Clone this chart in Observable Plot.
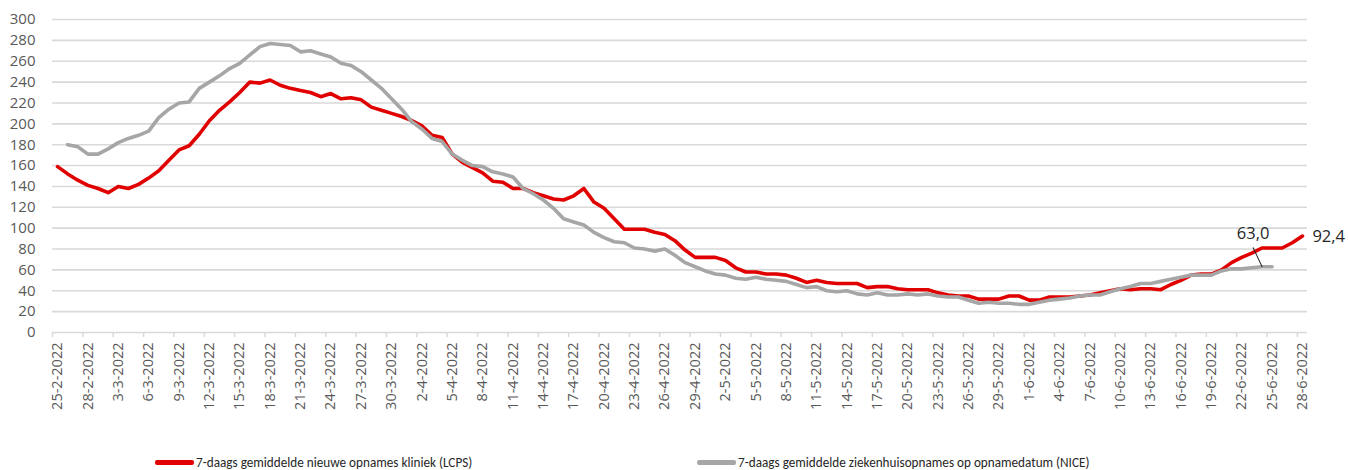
<!DOCTYPE html>
<html>
<head>
<meta charset="utf-8">
<script src="https://cdn.jsdelivr.net/npm/d3@7"></script>
<script src="https://cdn.jsdelivr.net/npm/@observablehq/plot@0.6"></script>
<style>
  html, body { margin: 0; padding: 0; background: #fff; }
  #wrap { position: relative; width: 1348px; height: 470px; overflow: hidden; font-family: "Open Sans", sans-serif; }
  .lg { position: absolute; top: 452px; height: 20px; display: flex; align-items: center; font-family: Carlito, "Liberation Sans Narrow", "DejaVu Sans Condensed", "Open Sans", sans-serif; font-size: 13.2px; color: #262626; white-space: nowrap; }
  .sw { display: inline-block; width: 39px; height: 5px; border-radius: 2px; margin-right: 2px; }
</style>
</head>
<body>
<div id="wrap">
  <div id="chart"></div>
  <div class="lg" id="lg1" style="left:155px"></div>
  <div class="lg" id="lg2" style="left:697px"></div>
</div>
<script>
// ---- data ----
const startDate = "2022-02-25";
const endDate = "2022-06-28";
const seriesNames = [
  "7-daags gemiddelde nieuwe opnames kliniek (LCPS)",
  "7-daags gemiddelde ziekenhuisopnames op opnamedatum (NICE)"
];
const seriesColors = ["#e00000", "#a6a6a6"];
const yTicks = [0, 20, 40, 60, 80, 100, 120, 140, 160, 180, 200, 220, 240, 260, 280, 300];
const labelEvery = 3;

const lcps = [
  159, 152, 146, 141, 138, 134, 140, 138, 142, 148,
  155, 165, 175, 179, 190, 203, 213, 221, 230, 240,
  239, 242, 237, 234, 232, 230, 226, 229, 224, 225,
  223, 216, 213, 210, 207, 203, 198, 189, 187, 171,
  163, 158, 153, 145, 144, 138, 138, 134, 131, 128,
  127, 131, 138, 125, 119, 109, 99, 99, 99, 96,
  94, 88, 79, 72, 72, 72, 69, 62, 58, 58,
  56, 56, 55, 52, 48, 50, 48, 47, 47, 47,
  43, 44, 44, 42, 41, 41, 41, 38, 36, 35,
  35, 32, 32, 32, 35, 35, 31, 31, 34, 34,
  34, 35, 36, 38, 40, 42, 41, 42, 42, 41,
  46, 50, 55, 56, 56, 60, 67, 72, 76, 81,
  81, 81, 86, 92.4
];
const nice = [
  null, 180, 178, 171, 171, 176, 182, 186, 189, 193,
  206, 214, 220, 221, 234, 240, 246, 253, 258, 266,
  274, 277, 276, 275, 269, 270, 267, 264, 258, 256,
  250, 242, 234, 224, 214, 202, 195, 186, 183, 171,
  165, 160, 159, 154, 152, 149, 138, 133, 127, 119,
  109, 106, 103, 96, 91, 87, 86, 81, 80, 78,
  80, 74, 67, 63, 59, 56, 55, 52, 51, 53,
  51, 50, 49, 46, 43, 44, 40, 39, 40, 37,
  36, 38, 36, 36, 37, 36, 37, 35, 34, 34,
  31, 28, 29, 28, 28, 27, 27, 29, 31, 32,
  33, 35, 36, 36, 39, 42, 44, 47, 47, 49,
  51, 53, 55, 55, 55, 59, 61, 61, 62, 63,
  63.0, null, null, null
];

// ---- build ----
const d0 = new Date(startDate + "T00:00Z");
const d1 = new Date(endDate + "T00:00Z");
const dates = d3.utcDay.range(d0, d3.utcDay.offset(d1, 1));
const rows = dates.map((d, i) => ({date: d, lcps: lcps[i], nice: nice[i]}));
const half = 12 * 3600 * 1000;
const labelDates = dates.filter((d, i) => i % labelEvery === 0);
const boundaries = labelDates.map(d => new Date(+d - half));
const fmtDate = d => `${d.getUTCDate()}-${d.getUTCMonth() + 1}-${d.getUTCFullYear()}`;
const fmtNum = v => v.toFixed(1).replace(".", ",");

const lastL = rows.filter(r => r.lcps != null).slice(-1);
const lastN = rows.filter(r => r.nice != null).slice(-1);

const chart = Plot.plot({
  width: 1348,
  height: 425,
  marginLeft: 52,
  marginRight: 41,
  marginTop: 19,
  marginBottom: 93,
  x: {type: "utc", domain: [new Date(+d0 - half), new Date(+d1 + half)]},
  y: {domain: [0, 300]},
  style: {fontFamily: "'Open Sans', sans-serif", fontSize: "14.5px", color: "#595959", background: "#fff", overflow: "visible"},
  marks: [
    Plot.gridY(yTicks, {stroke: "#d9d9d9", strokeOpacity: 1, strokeWidth: 1.6}),
    Plot.axisY(yTicks, {tickSize: 0, tickPadding: 17, label: null, fill: "#595959", fontSize: 15}),
    Plot.axisX(boundaries, {tickSize: 5, tickFormat: () => "", stroke: "#d9d9d9", strokeWidth: 1.5, strokeOpacity: 1, label: null}),
    Plot.axisX(labelDates, {tickSize: 0, tickPadding: 10, tickRotate: -90, tickFormat: fmtDate, label: null, fill: "#595959", fontSize: 14.5}),
    Plot.line(rows, {x: "date", y: "lcps", stroke: seriesColors[0], strokeWidth: 3.6}),
    Plot.line(rows, {x: "date", y: "nice", stroke: seriesColors[1], strokeWidth: 3.6}),
    Plot.text(lastL, {x: "date", y: "lcps", text: d => fmtNum(d.lcps), dx: 10, dy: 1, textAnchor: "start", fill: "#262626", fontSize: 16.5}),
    Plot.text(lastN, {x: "date", y: "nice", text: d => fmtNum(d.nice), dx: -19, dy: -33, textAnchor: "middle", fill: "#262626", fontSize: 16.5}),
    Plot.vector(lastN, {
      x: "date", y: "nice", dx: -10, length: 21, rotate: -25, anchor: "start",
      stroke: "#262626", strokeWidth: 1,
      shape: {draw(context, l) { context.moveTo(0, 0); context.lineTo(0, -l); }}
    })
  ]
});
document.getElementById("chart").appendChild(chart);

[["lg1", 0], ["lg2", 1]].forEach(([id, k]) => {
  const el = document.getElementById(id);
  const sw = document.createElement("span");
  sw.className = "sw";
  sw.style.background = seriesColors[k];
  el.appendChild(sw);
  const t = document.createElement("span");
  t.textContent = seriesNames[k];
  el.appendChild(t);
});
</script>
</body>
</html>
